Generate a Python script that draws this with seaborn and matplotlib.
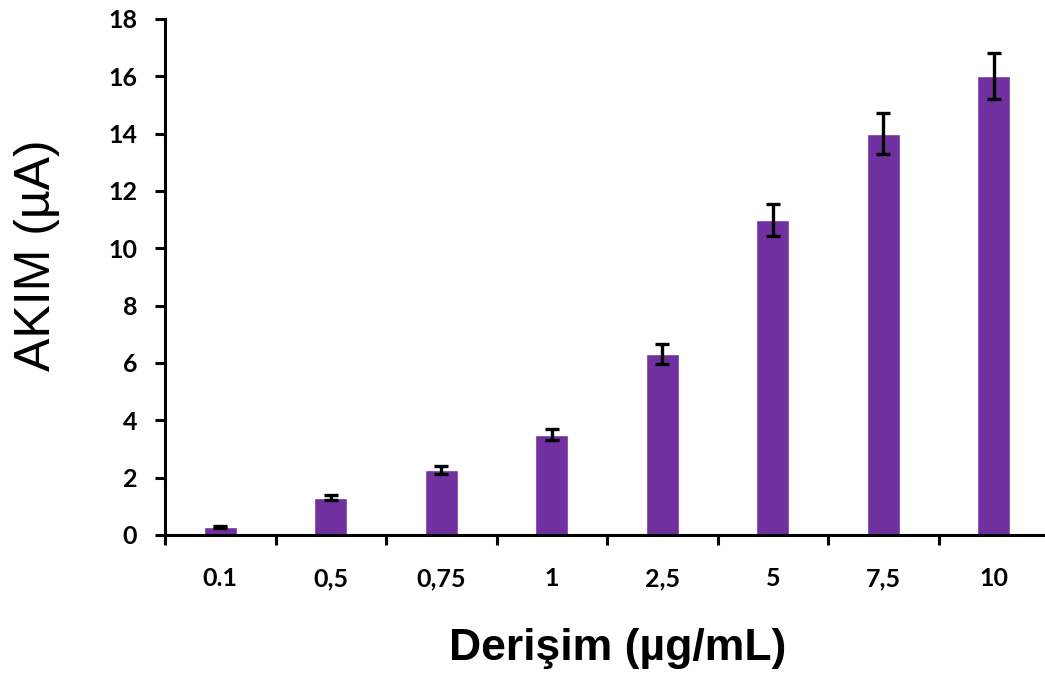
import matplotlib
matplotlib.use("Agg")
import matplotlib.pyplot as plt
import seaborn as sns
import pandas as pd

# concentration categories (as printed on the axis) and measured current
concentrations = ["0.1", "0,5", "0,75", "1", "2,5", "5", "7,5", "10"]
current = [0.28, 1.3, 2.28, 3.5, 6.32, 11.0, 14.0, 16.0]
current_err = [0.05, 0.08, 0.14, 0.2, 0.35, 0.56, 0.72, 0.8]

bar_color = "#7030A0"

df = pd.DataFrame({"Derisim": concentrations, "Akim": current})

sns.set_style("ticks")
fig = plt.figure(figsize=(10.45, 6.82), dpi=100)
ax = fig.add_axes([165 / 1045, 1 - 535 / 682, 884 / 1045, 516 / 682])

sns.barplot(data=df, x="Derisim", y="Akim", color=bar_color, width=0.3,
            saturation=1, errorbar=None, ax=ax)
positions = range(len(concentrations))
ax.errorbar(positions, current, yerr=current_err, fmt="none", ecolor="black",
            elinewidth=2.4, capsize=4.8, capthick=2.4)

ax.set_xlim(-0.5, len(concentrations) - 0.5)
ax.set_ylim(0, 18)
ax.set_yticks(range(0, 19, 2))

sns.despine(ax=ax)
for side in ["left", "bottom"]:
    ax.spines[side].set_linewidth(2.2)
    ax.spines[side].set_color("black")

# x ticks sit between the categories
ax.set_xticks([p - 0.5 for p in positions], minor=True)
ax.tick_params(axis="x", which="major", length=0, pad=23)
ax.tick_params(axis="x", which="minor", length=7, width=2.2, direction="out",
               color="black")
ax.tick_params(axis="y", length=7, width=2.2, direction="out", pad=13,
               color="black")

for lab in ax.get_xticklabels() + ax.get_yticklabels():
    lab.set_fontfamily("Lato")
    lab.set_fontweight("bold")
    lab.set_fontsize(18)
    lab.set_color("black")

ax.set_xlabel("Derişim (µg/mL)", fontfamily="Liberation Sans",
              fontweight="bold", fontsize=32, color="black")
ax.set_ylabel("AKIM (µA)", fontfamily="Liberation Sans", fontsize=36,
              color="black")
ax.xaxis.set_label_coords(0.512, -0.18)
ax.yaxis.set_label_coords(-0.119, 0.543)

fig.savefig("out.png", dpi=100)
